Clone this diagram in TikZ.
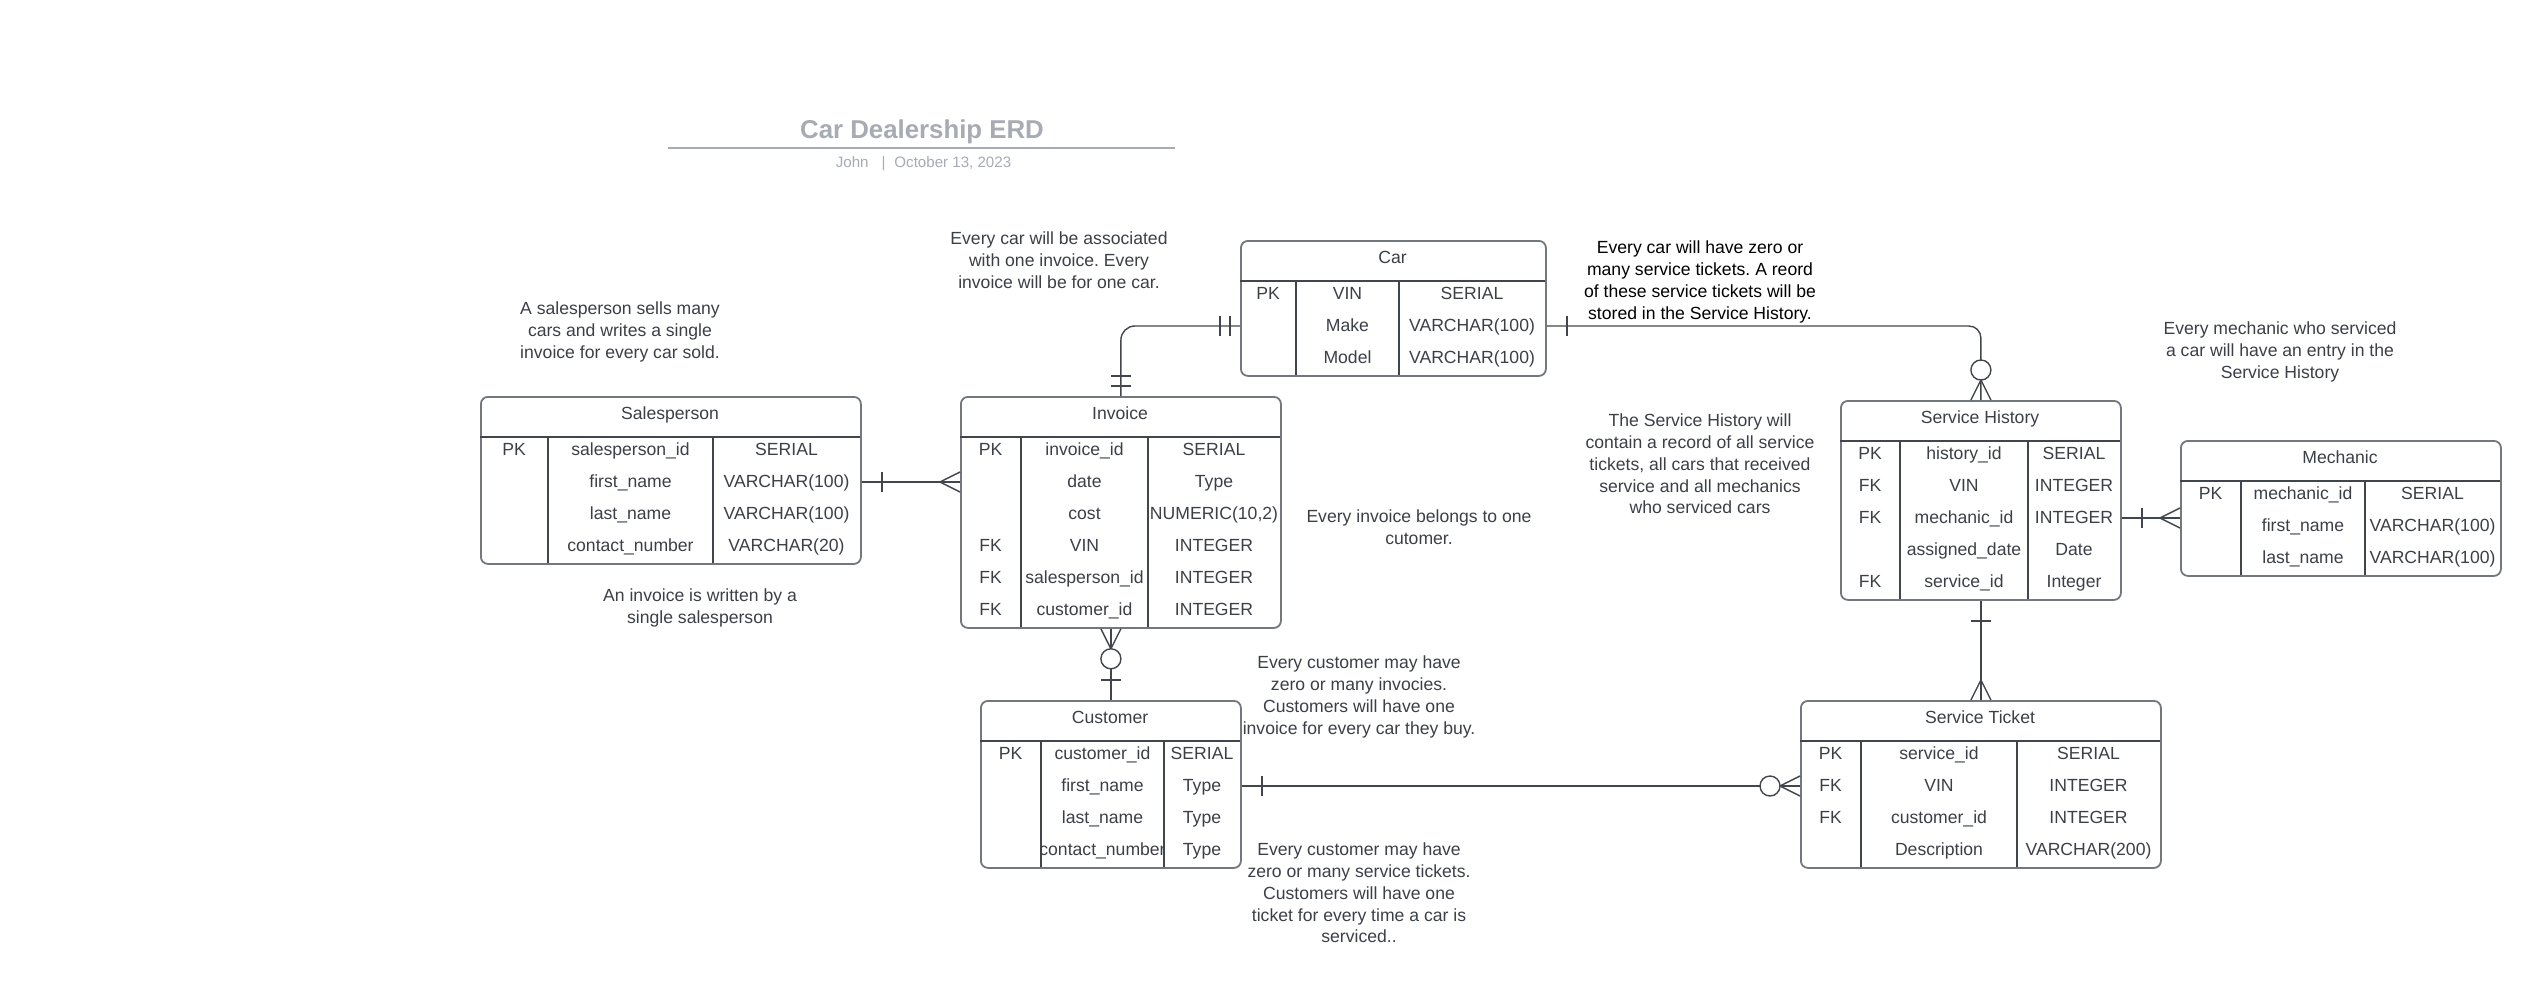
\documentclass[tikz,border=0pt]{standalone}
\usepackage{fontspec}
\setmainfont{Liberation Sans}
\frenchspacing
\usetikzlibrary{calc}

\definecolor{inkc}{HTML}{3B4048}
\definecolor{linec}{HTML}{41464E}
\definecolor{framec}{HTML}{73787F}
\definecolor{titlec}{HTML}{A6ABB4}

% #1 name, #2 left, #3 top, #4 width, #5 rows, #6/#7 column rules, #8 title, #9 rows
\newcommand{\erdtable}[9]{%
  \node[tbl, anchor=north west, minimum width=#4, minimum height={39+32*#5}] (#1) at (#2,#3) {};
  \node[cell] (#1-title) at ({#2+#4/2},{#3+18}) {#8};
  \draw[grid] (#2,{#3+41}) -- ({#2+#4},{#3+41});
  \draw[grid] (#6,{#3+41}) -- (#6,{#3+39+32*#5});
  \draw[grid] (#7,{#3+41}) -- (#7,{#3+39+32*#5});
  \foreach \ky/\fl/\ty [count=\i] in {#9} {
    \coordinate (#1-r\i) at (#2,{#3+22+32*\i});
    \node[cell] (#1-k\i) at ({(#2+#6)/2},{#3+22+32*\i}) {\ky};
    \node[cell] (#1-f\i) at ({(#6+#7)/2},{#3+22+32*\i}) {\fl};
    \node[cell] (#1-t\i) at ({(#7+#2+#4)/2},{#3+22+32*\i}) {\ty};
  }
}

\begin{document}
\begin{tikzpicture}[
    x=1pt, y=-1pt,
    every node/.style={font=\fontsize{17.6}{21.8}\selectfont, text=inkc, inner sep=0pt},
    tbl/.style={rectangle, rounded corners=7pt, draw=framec, line width=1.8pt},
    grid/.style={draw=linec, line width=1.4pt},
    cell/.style={anchor=mid, yshift=-2.5pt},
    note/.style={align=center, yshift=-2pt},
    conn/.style={draw=linec, line width=1.4pt},
    crowone/.pic={\draw[conn] (-20,-10) -- (-20,10);},
    crowonly/.pic={\draw[conn] (-10,-10) -- (-10,10) (-20,-10) -- (-20,10);},
    crowmany/.pic={\draw[conn] (0,-10) -- (-20,0) -- (0,10);},
    crowzmany/.pic={\draw[conn] (0,-10) -- (-20,0) -- (0,10);
                     \draw[conn, fill=white] (-30,0) circle (10);}
  ]
  \path[use as bounding box, fill=white] (0,0) rectangle (2540,980);

  % heading
  \node[font=\fontsize{25.8}{30}\selectfont\bfseries, text=titlec] (title) at (922,132) {Car Dealership ERD};
  \coordinate (rulel) at (668,148);
  \coordinate (ruler) at (1175,148);
  \draw[titlec, line width=1.8pt] (rulel) -- (ruler);
  \node[font=\fontsize{15.1}{18}\selectfont, text=titlec, anchor=mid] (byline) at (923.5,165)
        {John\hspace{13pt}|\hspace{9pt}October 13, 2023};

  % tables
  \erdtable{sales}{480}{396}{380}{4}{548}{713}{Salesperson}{PK/salesperson\_id/SERIAL,
    {}/first\_name/VARCHAR(100), {}/last\_name/VARCHAR(100), {}/contact\_number/VARCHAR(20)}
  \erdtable{inv}{960}{396}{320}{6}{1021}{1148}{Invoice}{PK/invoice\_id/SERIAL,
    {}/date/Type, {}/cost/{NUMERIC(10,2)}, FK/VIN/INTEGER, FK/salesperson\_id/INTEGER,
    FK/customer\_id/INTEGER}
  \erdtable{car}{1240}{240}{305}{3}{1296}{1399}{Car}{PK/VIN/SERIAL,
    {}/Make/VARCHAR(100), {}/Model/VARCHAR(100)}
  \erdtable{sh}{1840}{400}{280}{5}{1900}{2028}{Service History}{PK/history\_id/SERIAL,
    FK/VIN/INTEGER, FK/mechanic\_id/INTEGER, {}/assigned\_date/Date, FK/service\_id/Integer}
  \erdtable{mech}{2180}{440}{320}{3}{2241}{2365}{Mechanic}{PK/mechanic\_id/SERIAL,
    {}/first\_name/VARCHAR(100), {}/last\_name/VARCHAR(100)}
  \erdtable{cust}{980}{700}{260}{4}{1041}{1164}{Customer}{PK/customer\_id/SERIAL,
    {}/first\_name/Type, {}/last\_name/Type, {}/contact\_number/Type}
  \erdtable{st}{1800}{700}{360}{4}{1861}{2017}{Service Ticket}{PK/service\_id/SERIAL,
    FK/VIN/INTEGER, FK/customer\_id/INTEGER, {}/Description/VARCHAR(200)}

  % notes
  \node[note] (snote) at (620,330) {A salesperson sells many\\cars and writes a single\\invoice for every car sold.};
  \node[note] (wnote) at (700,606) {An invoice is written by a\\single salesperson};
  \node[note] (cnote) at (1059,258) {Every car will be associated\\with one invoice. Every\\invoice will be for one car.};
  \node[note] (bnote) at (1419,525) {Every invoice belongs to one\\cutomer.};
  \node[note, text=black] (tnote) at (1700,280)
        {Every car will have zero or\\many service tickets. A reord\\of these service tickets will be\\stored in the Service History.};
  \node[note] (hnote) at (1700,462)
        {The Service History will\\contain a record of all service\\tickets, all cars that received\\service and all mechanics\\who serviced cars};
  \node[note] (mnote) at (2280,350) {Every mechanic who serviced\\a car will have an entry in the\\Service History};
  \node[note] (inote) at (1359,695)
        {Every customer may have\\zero or many invocies.\\Customers will have one\\invoice for every car they buy.};
  \node[note] (knote) at (1359,891)
        {Every customer may have\\zero or many service tickets.\\Customers will have one\\ticket for every time a car is\\serviced..};

  % relations
  \draw[conn] (sales.east |- sales-r2) -- (inv.west |- sales-r2);
  \pic[rotate=180] at (sales.east |- sales-r2) {crowone};
  \pic at (inv.west |- sales-r2) {crowmany};

  \draw[conn, rounded corners=14pt] (car.west |- car-r2) -| (inv.north);
  \pic at (car.west |- car-r2) {crowonly};
  \pic[rotate=-90] at (inv.north) {crowonly};

  \draw[conn, rounded corners=12pt] (car.east |- car-r2) -| (sh.north);
  \pic[rotate=180] at (car.east |- car-r2) {crowone};
  \pic[rotate=-90] at (sh.north) {crowzmany};

  \draw[conn] (inv.south -| cust.north) -- (cust.north);
  \pic[rotate=90] at (inv.south -| cust.north) {crowzmany};
  \pic[rotate=-90] at (cust.north) {crowone};

  \draw[conn] (sh.south) -- (st.north);
  \pic[rotate=90] at (sh.south) {crowone};
  \pic[rotate=-90] at (st.north) {crowmany};

  \draw[conn] (cust.east |- cust-r2) -- (st.west |- cust-r2);
  \pic[rotate=180] at (cust.east |- cust-r2) {crowone};
  \pic at (st.west |- cust-r2) {crowzmany};

  \draw[conn] (sh.east |- sh-r3) -- (mech.west |- sh-r3);
  \pic[rotate=180] at (sh.east |- sh-r3) {crowone};
  \pic at (mech.west |- sh-r3) {crowmany};
\end{tikzpicture}
\end{document}
